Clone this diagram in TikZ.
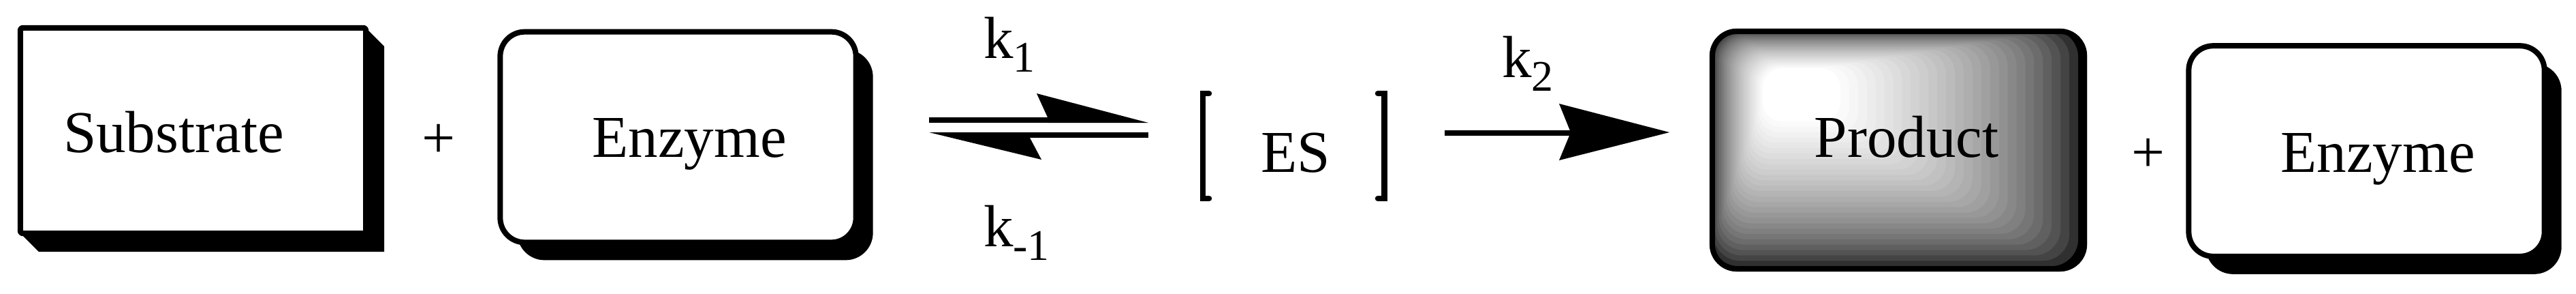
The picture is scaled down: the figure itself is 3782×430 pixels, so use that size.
\documentclass[tikz,border=0pt]{standalone}
\usepackage{fontspec}
\setmainfont{Liberation Serif}
\usetikzlibrary{backgrounds}
\newcommand\bigf{\fontsize{24.75pt}{29pt}\selectfont}
\newcommand\subf{\fontsize{18.2pt}{21pt}\selectfont}
\tikzset{
  lbl/.style={inner sep=0pt, outer sep=0pt, font=\bigf, anchor=base},
  klbl/.style={inner sep=0pt, outer sep=0pt, font=\bigf, anchor=base west},
  plainbox/.style={draw=black, fill=white, line width=0.08cm, rounded corners=0.03cm,
    inner sep=0pt, outer sep=0pt, line join=round},
  roundbox/.style={draw=black, fill=white, line width=0.08cm, rounded corners=0.36cm,
    inner sep=0pt, outer sep=0pt, minimum width=5.22cm, minimum height=3.085cm},
  prodbox/.style={draw=black, line width=0.08cm, rounded corners=0.36cm,
    inner sep=0pt, outer sep=0pt, minimum width=5.46cm, minimum height=3.48cm},
  shadowfill/.style={fill=black, rounded corners=0.4cm},
  bar/.style={draw=black, line width=0.08cm, line cap=butt},
  head/.style={fill=black},
  brk/.style={draw=black, line width=0.085cm, line cap=round, line join=miter},
}
\begin{document}
\begin{tikzpicture}[x=0.01cm, y=-0.01cm]
\useasboundingbox (0,0) rectangle (3782,430);

% ---- Substrate box with extruded shadow
\node[plainbox, minimum width=5.07cm, minimum height=3.01cm] (sub) at (283.5,191.5) {};
\begin{scope}[on background layer]
  \fill[black] (sub.north east) -- ++(27,27) -- ([shift={(27,27)}]sub.south east)
    -- ([shift={(27,27)}]sub.south west) -- (sub.south west) -- cycle;
\end{scope}
\node[lbl] (subtxt) at (255,223) {Substrate};

% ---- plus
\node[lbl] (plus1) at (644.5,231.5) {+};

% ---- Enzyme box 1
\node[roundbox] (e1) at (995.5,201) {};
\begin{scope}[on background layer]
  \fill[shadowfill] ([shift={(25,26)}]e1.north west) rectangle ([shift={(25,26)}]e1.south east);
\end{scope}
\node[lbl] (e1txt) at (1012,230) {Enzyme};

% ---- rate constants k1 / k-1
\node[klbl] (k1) at (1444,85) {k\raisebox{-0.2cm}{\subf 1}};
\node[klbl] (km1) at (1444,361) {k\raisebox{-0.2cm}{\subf -1}};

% ---- equilibrium harpoons
\coordinate (fwdA) at (1364,176);
\coordinate (fwdB) at (1540,176);
\coordinate (fwdTip) at (1686,180);
\draw[bar] (fwdA) -- (fwdB);
\fill[head] (1538,172) -- (1522,137) -- (fwdTip) -- (1538,180) -- cycle;

\coordinate (revA) at (1686,198);
\coordinate (revB) at (1510,198);
\coordinate (revTip) at (1364,194);
\draw[bar] (revA) -- (revB);
\fill[head] (1512,202) -- (1529,234) -- (revTip) -- (1512,194) -- cycle;

% ---- [ ES ]
\node[lbl] (es) at (1902,252) {ES};
\draw[brk] (1775,137) -- (1766,137) -- (1766,291) -- (1775,291);
\draw[brk] (2023,137) -- (2032.5,137) -- (2032.5,291) -- (2023,291);

% ---- k2 and arrow
\node[klbl] (k2) at (2205,113) {k\raisebox{-0.2cm}{\subf 2}};
\coordinate (mainA) at (2121,195);
\coordinate (mainB) at (2308,195);
\coordinate (mainTip) at (2451,194);
\draw[bar, line width=0.085cm] (mainA) -- (mainB);
\fill[head] (mainTip) -- (2289,152) -- (2306,194) -- (2289,235) -- cycle;

% ---- Product box with banded shading
\foreach \i in {0,...,28}{
  \pgfmathsetmacro{\tp}{\i/28}
  \pgfmathsetmacro{\pXa}{2510+\tp*(2588-2510)}
  \pgfmathsetmacro{\pYa}{42+\tp*(100-42)}
  \pgfmathsetmacro{\pXb}{3064-\tp*(3064-2702)}
  \pgfmathsetmacro{\pYb}{398-\tp*(398-178)}
  \pgfmathsetmacro{\rr}{0.40-0.12*\tp}
  \pgfmathsetmacro{\gv}{100*(1-sqrt(\tp))}
  \fill[black!\gv, rounded corners=\rr cm] (\pXa,\pYa) rectangle (\pXb,\pYb);
}
\node[prodbox] (prod) at (2787,220) {};
\node[lbl] (prodtxt) at (2799,230) {Product};

% ---- plus
\node[lbl] (plus2) at (3153.5,252.5) {+};

% ---- Enzyme box 2
\node[roundbox] (e2) at (3474.5,221.5) {};
\begin{scope}[on background layer]
  \fill[shadowfill] ([shift={(25,26)}]e2.north west) rectangle ([shift={(25,26)}]e2.south east);
\end{scope}
\node[lbl] (e2txt) at (3491,252) {Enzyme};
\end{tikzpicture}
\end{document}
